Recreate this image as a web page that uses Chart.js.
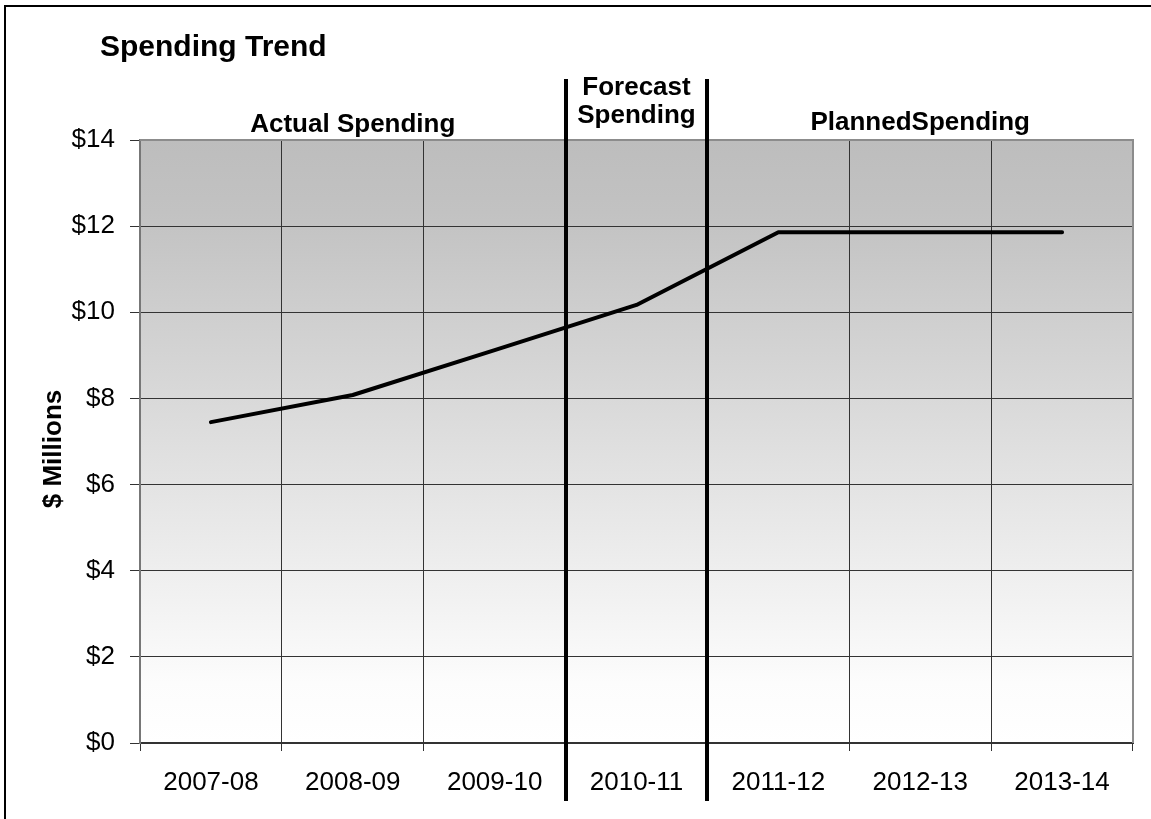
<!DOCTYPE html>
<html>
<head>
<meta charset="utf-8">
<script src="https://cdn.jsdelivr.net/npm/chart.js@4.4.1/dist/chart.umd.min.js"></script>
<style>
  html, body { margin: 0; padding: 0; background: #fff; }
  #wrap { width: 1151px; height: 819px; }
</style>
</head>
<body>
<div id="wrap"><canvas id="spendingChart" width="1151" height="819"></canvas></div>
<script>
// Chart data
const years = ["2007-08", "2008-09", "2009-10", "2010-11", "2011-12", "2012-13", "2013-14"];
const spending = [7.45, 8.08, 9.12, 10.17, 11.86, 11.86, 11.86];
const yTickMax = 14;
const yTickStep = 2;

// Section labels: text lines and which categories they cover
const sectionNames = [["Actual Spending"], ["Forecast", "Spending"], ["PlannedSpending"]];
const sectionFirst = [0, 3, 4];
const sectionLast = [2, 3, 6];
// dividers sit between these category indexes
const dividerAfter = [2, 3];

const FONT = "'Liberation Sans', Arial, sans-serif";

// Gradient plot background
const plotBackground = {
  id: "plotBackground",
  beforeDraw(chart) {
    const { ctx, chartArea: a } = chart;
    const g = ctx.createLinearGradient(0, a.top, 0, a.bottom);
    g.addColorStop(0, "#bdbdbd");
    g.addColorStop(0.12, "#c2c2c2");
    g.addColorStop(0.9, "#fcfcfc");
    g.addColorStop(1, "#ffffff");
    ctx.save();
    ctx.fillStyle = g;
    ctx.fillRect(a.left, a.top, a.right - a.left, a.bottom - a.top);
    ctx.restore();
  },
};

// Title, section labels, divider lines, frame
const decorations = {
  id: "decorations",
  afterDraw(chart) {
    const { ctx, chartArea: a } = chart;
    const x = chart.scales.x;
    ctx.save();

    // plot border top / right
    ctx.strokeStyle = "#8c8c8c";
    ctx.lineWidth = 2;
    ctx.beginPath();
    ctx.moveTo(a.left, a.top);
    ctx.lineTo(a.right, a.top);
    ctx.lineTo(a.right, a.bottom);
    ctx.stroke();

    // outer frame
    ctx.strokeStyle = "#000";
    ctx.lineWidth = 2;
    ctx.strokeRect(5, 6, 1300, 1000);

    // dividers
    ctx.strokeStyle = "#000";
    ctx.lineWidth = 4;
    dividerAfter.forEach((i) => {
      const px = Math.round((x.getPixelForValue(i) + x.getPixelForValue(i + 1)) / 2);
      ctx.beginPath();
      ctx.moveTo(px, 79);
      ctx.lineTo(px, 801);
      ctx.stroke();
    });

    // title
    ctx.fillStyle = "#000";
    ctx.textBaseline = "alphabetic";
    ctx.textAlign = "left";
    ctx.font = "bold 30px " + FONT;
    ctx.fillText("Spending Trend", 100, 56);

    // section labels
    ctx.font = "bold 26px " + FONT;
    ctx.textAlign = "center";
    const baselines = [[132], [95, 123], [130]];
    sectionNames.forEach((lines, k) => {
      const cx = (x.getPixelForValue(sectionFirst[k]) + x.getPixelForValue(sectionLast[k])) / 2;
      lines.forEach((t, j) => ctx.fillText(t, cx, baselines[k][j]));
    });

    // y axis title
    ctx.translate(54, 449);
    ctx.rotate(-Math.PI / 2);
    ctx.textBaseline = "middle";
    ctx.fillText("$ Millions", 0, 0);
    ctx.restore();
  },
};

const ctx = document.getElementById("spendingChart").getContext("2d");
const spendingChart = new Chart(ctx, {
  type: "line",
  data: {
    labels: years,
    datasets: [
      {
        label: "Spending",
        data: spending,
        borderColor: "#000",
        borderWidth: 4,
        borderCapStyle: "round",
        borderJoinStyle: "round",
        tension: 0,
        pointRadius: 0,
        fill: false,
      },
    ],
  },
  options: {
    responsive: false,
    animation: false,
    layout: {
      padding: { top: 140, right: 18, left: 0, bottom: 0 },
    },
    plugins: {
      legend: { display: false },
      tooltip: { enabled: false },
      title: { display: false },
    },
    scales: {
      x: {
        offset: true,
        grid: {
          offset: true,
          color: "#333",
          lineWidth: 1,
          tickLength: 8,
          drawTicks: true,
        },
        border: { color: "#333", width: 2 },
        ticks: {
          color: "#000",
          padding: 16,
          maxRotation: 0,
          font: { family: FONT, size: 26 },
        },
        afterFit(scale) {
          scale.height = 76;
        },
      },
      y: {
        min: 0,
        max: yTickMax,
        grid: {
          color: "#333",
          lineWidth: 1,
          tickLength: 10,
        },
        border: { color: "#777", width: 2 },
        ticks: {
          stepSize: yTickStep,
          color: "#000",
          padding: 15,
          font: { family: FONT, size: 26 },
          callback: (v) => "$" + v,
        },
        afterFit(scale) {
          scale.width = 140;
        },
      },
    },
  },
  plugins: [plotBackground, decorations],
});
</script>
</body>
</html>
